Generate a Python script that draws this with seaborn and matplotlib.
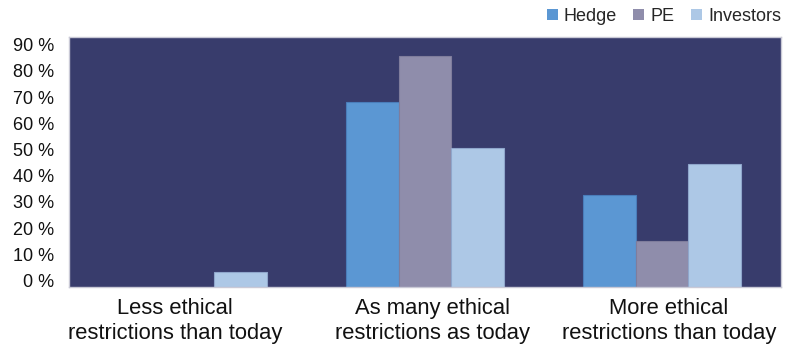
import matplotlib
matplotlib.use("Agg")
import matplotlib.pyplot as plt
import matplotlib.transforms as mtransforms
import seaborn as sns
import pandas as pd
from matplotlib.patches import Patch

# Survey answers, share of respondents (%)
categories = [
    "Less ethical\nrestrictions than today",
    "As many ethical\nrestrictions as today",
    "More ethical\nrestrictions than today",
]
series = ["Hedge", "PE", "Investors"]
hedge = [0.0, 68.0, 32.5]
pe = [0.0, 85.8, 15.0]
investors = [3.4, 50.4, 44.3]
ytick_values = [0, 10, 20, 30, 40, 50, 60, 70, 80, 90]
ytick_labels = [f"{v} %" for v in ytick_values]

colors = {"Hedge": "#5B97D3", "PE": "#8F8DAB", "Investors": "#ADC8E6"}
edges = {"Hedge": "#4A7DBA", "PE": "#7F7D9C", "Investors": "#8FA6CB"}
panel_bg = "#383C6C"

df = pd.DataFrame({
    "category": categories * 3,
    "series": [s for s in series for _ in categories],
    "value": hedge + pe + investors,
})

sns.set_theme(style="white")
plt.rcParams["font.family"] = ["Liberation Sans", "DejaVu Sans"]

fig = plt.figure(figsize=(7.87, 3.47), dpi=100)
ax = fig.add_axes([0.0881, 0.172, 0.9039, 0.7205])
ax.set_facecolor(panel_bg)

sns.barplot(
    data=df, x="category", y="value", hue="series",
    order=categories, hue_order=series, palette=colors,
    width=0.665, saturation=1, errorbar=None, legend=False, ax=ax,
)

y_floor, y_ceil = -2.6, 92.8
ax.set_ylim(y_floor, y_ceil)
ax.set_xlim(-0.5, 2.5)

# Bars run down to the floor of the plotting panel
for container, name in zip(ax.containers, series):
    for bar in container:
        h = bar.get_height()
        if h <= 0:
            bar.set_visible(False)
            continue
        bar.set_y(y_floor)
        bar.set_height(h - y_floor)
        bar.set_edgecolor(edges[name])
        bar.set_linewidth(0.8)

ax.set_yticks(ytick_values)
ax.set_yticklabels(ytick_labels, fontsize=13, color="#111111")
ax.tick_params(axis="y", length=0, pad=11)
ax.tick_params(axis="x", length=0, pad=8, labelsize=15.8, labelcolor="#111111")
ax.set_xlabel("")
ax.set_ylabel("")

# Small horizontal nudges of the category captions (in points)
label_shifts = [-9.5, 5.5, 5.0]
for lbl, dx in zip(ax.get_xticklabels(), label_shifts):
    lbl.set_transform(lbl.get_transform() +
                      mtransforms.ScaledTranslation(dx / 72, 0, fig.dpi_scale_trans))

for side, sp in ax.spines.items():
    sp.set_visible(True)
    sp.set_color("#C9C9D6")
    sp.set_linewidth(1.0)

handles = [Patch(facecolor=colors[s], edgecolor="none", label=s) for s in series]
fig.legend(
    handles=handles, loc="upper right", bbox_to_anchor=(1.006, 1.008),
    ncol=3, frameon=False, fontsize=13, handlelength=0.6, handleheight=0.6,
    handletextpad=0.35, columnspacing=0.9, borderaxespad=0.2,
)

fig.savefig("out.png", dpi=100)
